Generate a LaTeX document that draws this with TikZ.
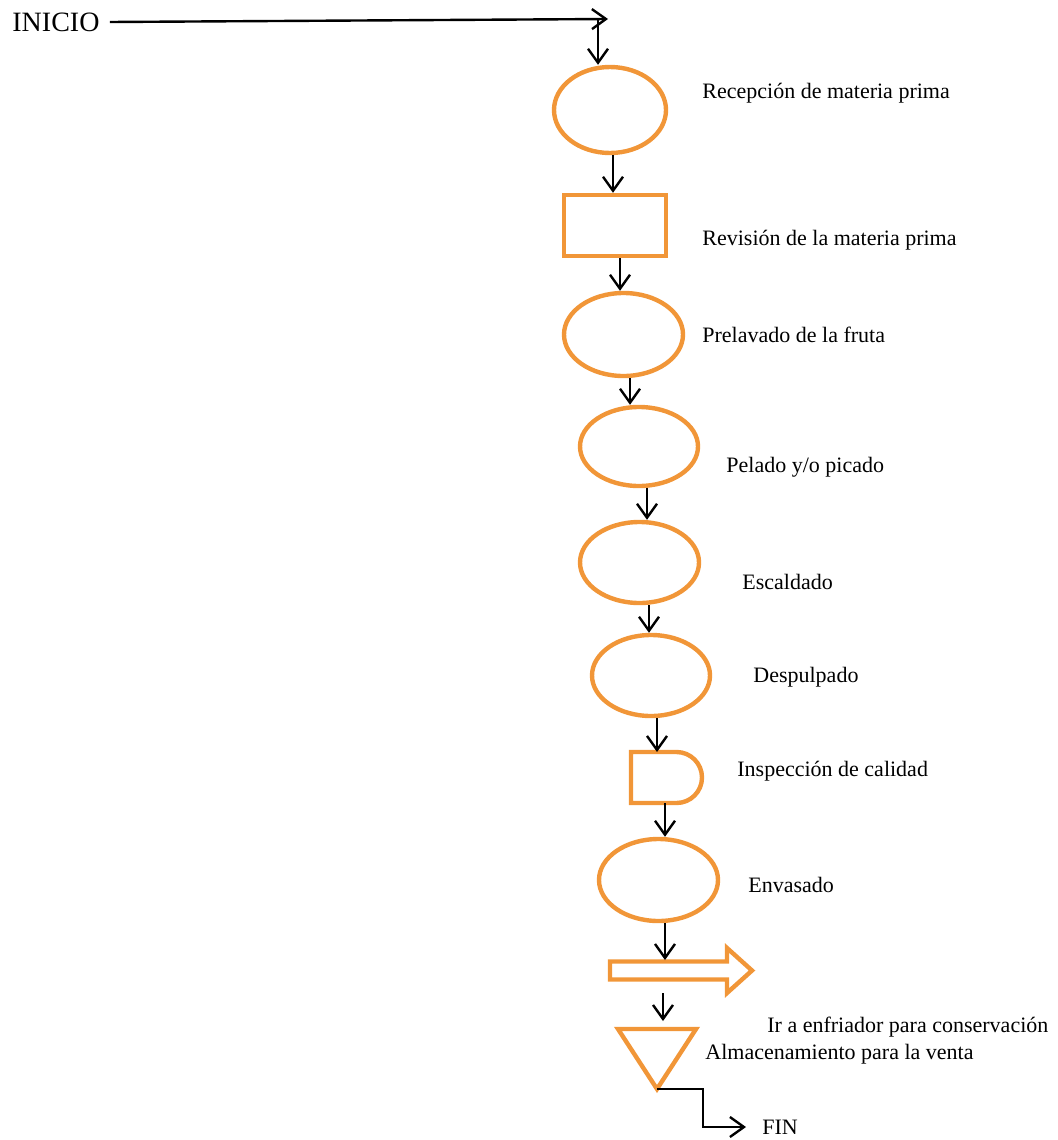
\documentclass[tikz,border=0pt]{standalone}
\usepackage{fontspec}
\setmainfont{Liberation Serif}
\usepackage{xcolor}
\usetikzlibrary{shapes.geometric,arrows.meta,calc}
\definecolor{flowor}{RGB}{241,150,56}

\begin{document}
\begin{tikzpicture}[x=0.5pt, y=-0.5pt,
      shapeline/.style={draw=flowor, line width=2.2pt, line join=miter},
      proc/.style={ellipse, shapeline, inner sep=0pt},
      chk/.style={rectangle, shapeline, inner sep=0pt},
      slot/.style={rectangle, inner sep=0pt, outer sep=0pt},
      lbl/.style={anchor=west, inner sep=0pt, font=\fontsize{11}{13}\selectfont},
      flow/.style={draw, line width=1.2pt, -{Straight Barb[length=7pt,width=10pt]}}]
    \useasboundingbox (0,0) rectangle (1058,1140);

    \node[proc, minimum width=56pt, minimum height=43pt] (recep) at (610,110) {};
    \node[chk, minimum width=51pt, minimum height=30.5pt] (revis) at (615,225.5) {};
    \node[proc, minimum width=59.5pt, minimum height=41.5pt] (prelav) at (623.5,334.5) {};
    \node[proc, minimum width=59pt, minimum height=39.5pt] (pelado) at (639,446.5) {};
    \node[proc, minimum width=59.5pt, minimum height=40.5pt] (escal) at (639.5,562.5) {};
    \node[proc, minimum width=59pt, minimum height=40.5pt] (despul) at (651,675.5) {};
    \node[slot, minimum width=35.5pt, minimum height=25.5pt] (insp) at (666.5,777.5) {};
    \node[proc, minimum width=59.5pt, minimum height=41pt] (envas) at (658.5,880) {};
    \node[slot, minimum width=71pt, minimum height=22.5pt] (ship) at (681,970.5) {};
    \node[slot, minimum width=39pt, minimum height=30pt] (store) at (657,1059) {};

    \draw[shapeline] (insp.south west) -- (insp.north west) -- ($(insp.north east)+(-25.5,0)$)
      arc[start angle=-90, end angle=90, radius=25.5] -- cycle;
    \draw[shapeline] ($(ship.north west)+(0,13.5)$) -- ($(ship.north east)+(-25,13.5)$)
      -- ($(ship.north east)+(-25,0)$) -- (ship.east) -- ($(ship.south east)+(-25,0)$)
      -- ($(ship.south east)+(-25,-13.5)$) -- ($(ship.south west)+(0,-13.5)$) -- cycle;
    \draw[shapeline] (store.north west) -- (store.north east) -- (store.south) -- cycle;

    \node[lbl] (trecep) at (702,93) {Recepción de materia prima};
    \node[lbl] (trevis) at (702,240) {Revisión de la materia prima};
    \node[lbl] (tprelav) at (702,335) {Prelavado de la fruta};
    \node[lbl] (tpelado) at (726,467) {Pelado y/o picado};
    \node[lbl] (tescal) at (742,582) {Escaldado};
    \node[lbl] (tdespul) at (753,677) {Despulpado};
    \node[lbl] (tinsp) at (737,771) {Inspección de calidad};
    \node[lbl] (tenvas) at (748,885) {Envasado};
    \node[lbl] (tship) at (767,1027) {Ir a enfriador para conservación};
    \node[lbl] (tstore) at (705,1054) {Almacenamiento para la venta};
    \node[lbl] (fin) at (762,1127) {FIN};
    \node[lbl, inner sep=5pt, font=\fontsize{14}{17}\selectfont] (inicio) at (2,22) {INICIO};

    \coordinate (corner) at (608,19);
    \coordinate (drop) at (598,19);
    \draw[flow] (inicio.east) -- (corner);
    \draw[flow] (drop) -- (drop |- recep.north);
    \draw[flow] ([xshift=1.5pt]recep.south) -- ([xshift=1.5pt]recep.south |- revis.north);
    \draw[flow] ([xshift=2.5pt]revis.south) -- ([xshift=2.5pt]revis.south |- prelav.north);
    \draw[flow] ([xshift=3.25pt]prelav.south) -- ([xshift=3.25pt]prelav.south |- pelado.north);
    \draw[flow] ([xshift=4pt]pelado.south) -- ([xshift=4pt]pelado.south |- escal.north);
    \draw[flow] ([xshift=4.75pt]escal.south) -- ([xshift=4.75pt]escal.south |- despul.north);
    \draw[flow] ([xshift=3pt]despul.south) -- ([xshift=3pt]despul.south |- insp.north);
    \draw[flow] ([xshift=-0.75pt]insp.south) -- ([xshift=-0.75pt]insp.south |- envas.north);
    \draw[flow] ([xshift=3.25pt]envas.south) -- ([xshift=3.25pt,yshift=-6pt]envas.south |- ship.north);
    \draw[flow, shorten >=4pt] ([xshift=-9pt]ship.south) -- ([xshift=-9pt]ship.south |- store.north);
    \draw[flow] (store.south) -- ++(46,0) |- ([xshift=-8pt]fin.west);
  \end{tikzpicture}
\end{document}
